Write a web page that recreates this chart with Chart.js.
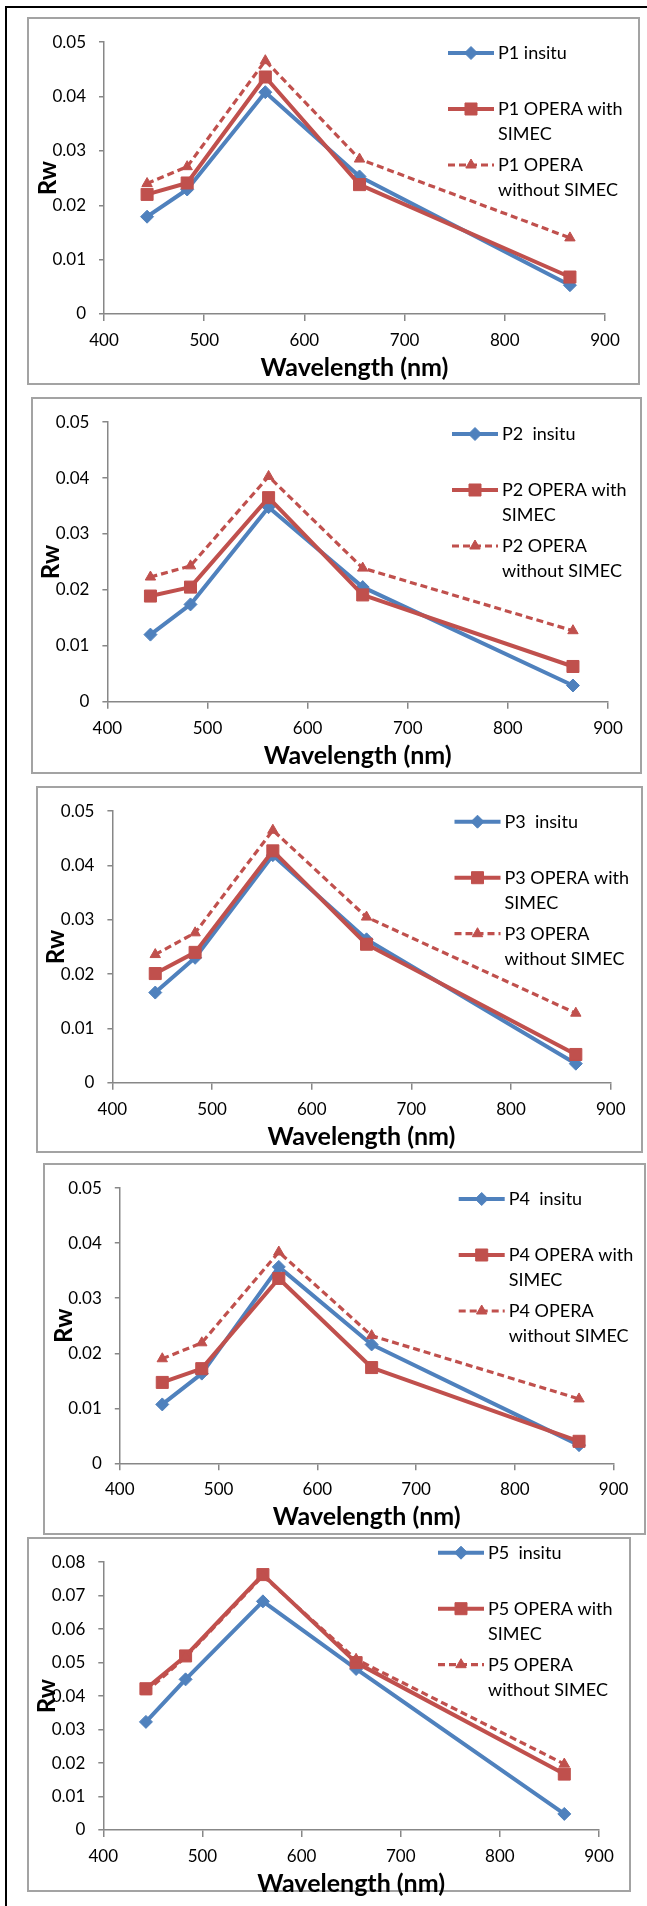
<!DOCTYPE html>
<html>
<head>
<meta charset="utf-8">
<title>Rw spectra P1–P5</title>
<script src="https://cdn.jsdelivr.net/npm/chart.js@4.4.1/dist/chart.umd.min.js"></script>
<style>
  html, body { margin: 0; padding: 0; background: #fff; }
  body { width: 647px; height: 1906px; position: relative; overflow: hidden; }
  .frame { position: absolute; left: 5px; top: 6px; width: 642px; height: 1900px;
           border-left: 2px solid #000; border-top: 2px solid #000; box-sizing: border-box; }
  .panel { position: absolute; box-sizing: border-box; border: 2px solid #a3a3a3; }
  canvas { position: absolute; }
</style>
</head>
<body>
<div class="frame"></div>
<script>
// Band centres (nm)
const wavelengths = [443, 483, 561, 655, 865];

// Axis ticks
const xTicks = [400, 500, 600, 700, 800, 900];
const yTicks05 = [0, 0.01, 0.02, 0.03, 0.04, 0.05];
const yTickLabels05 = ['0', '0.01', '0.02', '0.03', '0.04', '0.05'];
const yTicks08 = [0, 0.01, 0.02, 0.03, 0.04, 0.05, 0.06, 0.07, 0.08];
const yTickLabels08 = ['0', '0.01', '0.02', '0.03', '0.04', '0.05', '0.06', '0.07', '0.08'];

// Rw per station: in situ, OPERA with SIMEC, OPERA without SIMEC
const p1Insitu  = [0.0179, 0.0229, 0.0408, 0.0253, 0.0053];
const p1With    = [0.0220, 0.0241, 0.0436, 0.0238, 0.0068];
const p1Without = [0.0240, 0.0271, 0.0466, 0.0285, 0.0140];

const p2Insitu  = [0.0120, 0.0174, 0.0348, 0.0205, 0.0029];
const p2With    = [0.0189, 0.0205, 0.0365, 0.0191, 0.0063];
const p2Without = [0.0223, 0.0243, 0.0403, 0.0239, 0.0127];

const p3Insitu  = [0.0166, 0.0230, 0.0419, 0.0264, 0.0035];
const p3With    = [0.0201, 0.0240, 0.0427, 0.0255, 0.0052];
const p3Without = [0.0236, 0.0276, 0.0465, 0.0305, 0.0128];

const p4Insitu  = [0.0107, 0.0163, 0.0357, 0.0216, 0.0033];
const p4With    = [0.0147, 0.0172, 0.0336, 0.0174, 0.0040];
const p4Without = [0.0190, 0.0219, 0.0384, 0.0232, 0.0117];

const p5Insitu  = [0.0323, 0.0450, 0.0683, 0.0481, 0.0048];
const p5With    = [0.0422, 0.0520, 0.0763, 0.0500, 0.0167];
const p5Without = [0.0413, 0.0516, 0.0759, 0.0510, 0.0197];

// Legend text, one array of lines per series
const p1Labels = [['P1 insitu'], ['P1 OPERA with', 'SIMEC'], ['P1 OPERA', 'without SIMEC']];
const p2Labels = [['P2  insitu'], ['P2 OPERA with', 'SIMEC'], ['P2 OPERA', 'without SIMEC']];
const p3Labels = [['P3  insitu'], ['P3 OPERA with', 'SIMEC'], ['P3 OPERA', 'without SIMEC']];
const p4Labels = [['P4  insitu'], ['P4 OPERA with', 'SIMEC'], ['P4 OPERA', 'without SIMEC']];
const p5Labels = [['P5  insitu'], ['P5 OPERA with', 'SIMEC'], ['P5 OPERA', 'without SIMEC']];

const xTitle = 'Wavelength (nm)';
const yTitle = 'Rw';

// ---- styling / layout ----
const BLUE = '#4F81BD';
const RED = '#C0504D';
const AXIS = '#878787';
const FONT = 'Lato';
Chart.defaults.font.family = FONT;

// page boxes [left, top, right, bottom], plot areas, legend anchor
const layouts = [
  { box: [27, 17, 640, 385],    area: [104, 37.5, 605, 314],      legend: [448, 53] },
  { box: [31, 397, 642, 774],   area: [107.4, 417.3, 608, 701.7], legend: [452, 434] },
  { box: [36, 786, 643, 1153],  area: [112.4, 805.3, 610.7, 1082.7], legend: [454.5, 821.7] },
  { box: [43, 1163, 646, 1535], area: [119.8, 1182.7, 613.6, 1463.3], legend: [458.7, 1199] },
  { box: [27, 1537, 631, 1892], area: [103.3, 1556, 599, 1830],   legend: [438, 1552.7] }
];

const panels = [
  { series: [p1Insitu, p1With, p1Without], labels: p1Labels, yTicks: yTicks05, yLabels: yTickLabels05 },
  { series: [p2Insitu, p2With, p2Without], labels: p2Labels, yTicks: yTicks05, yLabels: yTickLabels05 },
  { series: [p3Insitu, p3With, p3Without], labels: p3Labels, yTicks: yTicks05, yLabels: yTickLabels05 },
  { series: [p4Insitu, p4With, p4Without], labels: p4Labels, yTicks: yTicks05, yLabels: yTickLabels05 },
  { series: [p5Insitu, p5With, p5Without], labels: p5Labels, yTicks: yTicks08, yLabels: yTickLabels08 }
];

const seriesStyles = [
  { color: BLUE, width: 4,   dash: [], point: 'rectRot', radius: 6.5, order: 3 },
  { color: RED,  width: 4,   dash: [], point: 'rect',    radius: 8.5, order: 2 },
  { color: RED,  width: 3.2, dash: [7, 4], point: 'triangle', radius: 6, order: 1 }
];

// Legend drawn at the right of the plot with wrapped labels
const sideLegend = {
  id: 'sideLegend',
  afterDraw(chart, args, opts) {
    const ctx = chart.ctx;
    const gaps = [0, 56, 112];
    const lineLen = 46;
    ctx.save();
    chart.data.datasets.forEach((ds, i) => {
      const y = opts.y + gaps[i];
      ctx.lineWidth = ds.borderWidth;
      ctx.strokeStyle = ds.borderColor;
      ctx.setLineDash(ds.borderDash || []);
      ctx.beginPath();
      ctx.moveTo(opts.x, y);
      ctx.lineTo(opts.x + lineLen, y);
      ctx.stroke();
      ctx.setLineDash([]);
      ctx.fillStyle = ds.pointBackgroundColor;
      ctx.strokeStyle = ds.pointBorderColor;
      ctx.lineWidth = ds.pointBorderWidth;
      Chart.helpers.drawPoint(ctx, {
        pointStyle: ds.pointStyle, radius: ds.pointRadius, rotation: 0, borderWidth: ds.pointBorderWidth
      }, opts.x + lineLen / 2, y);
      ctx.fillStyle = '#000';
      ctx.font = '18px ' + FONT;
      ctx.textAlign = 'left';
      ctx.textBaseline = 'middle';
      opts.lines[i].forEach((t, k) => ctx.fillText(t, opts.x + lineLen + 4, y + k * 25));
    });
    ctx.restore();
  }
};

const X_TITLE_SIZE = 25;
const Y_TITLE_SIZE = 24;
const X_H = 54 + X_TITLE_SIZE * 1.2 / 2;   // height of the x-axis block (ticks + labels + title)
const BORDER = 2;

layouts.forEach(lay => {
  const d = document.createElement('div');
  d.className = 'panel';
  d.style.left = lay.box[0] + 'px';
  d.style.top = lay.box[1] + 'px';
  d.style.width = (lay.box[2] - lay.box[0]) + 'px';
  d.style.height = (lay.box[3] - lay.box[1]) + 'px';
  document.body.appendChild(d);
});

panels.forEach((p, idx) => {
  const lay = layouts[idx];
  const ox = lay.box[0] + BORDER, oy = lay.box[1] + BORDER;
  const cw = lay.box[2] - lay.box[0] - 2 * BORDER;
  const ch = lay.box[3] - lay.box[1] - 2 * BORDER + 24;
  const aL = lay.area[0] - ox, aT = lay.area[1] - oy;
  const aR = lay.area[2] - ox, aB = lay.area[3] - oy;

  const cv = document.createElement('canvas');
  cv.width = cw; cv.height = ch;
  cv.style.left = ox + 'px'; cv.style.top = oy + 'px';
  cv.style.width = cw + 'px'; cv.style.height = ch + 'px';
  document.body.appendChild(cv);

  const datasets = p.series.map((vals, i) => {
    const st = seriesStyles[i];
    return {
      label: p.labels[i].join(' '),
      data: wavelengths.map((w, k) => ({ x: w, y: vals[k] })),
      borderColor: st.color,
      backgroundColor: st.color,
      borderWidth: st.width,
      borderDash: st.dash,
      borderJoinStyle: 'round',
      pointStyle: st.point,
      pointRadius: st.radius,
      pointBackgroundColor: st.color,
      pointBorderColor: st.color,
      pointBorderWidth: 1,
      tension: 0,
      fill: false,
      order: st.order,
      clip: false
    };
  });

  const yTitlePad = (lay.area[0] - 56) - ox - Y_TITLE_SIZE * 1.2 / 2;

  new Chart(cv, {
    type: 'line',
    data: { datasets },
    plugins: [sideLegend],
    options: {
      responsive: false,
      animation: false,
      events: [],
      devicePixelRatio: 1,
      layout: { padding: { left: 0, top: aT, right: cw - aR, bottom: ch - aB - X_H } },
      plugins: {
        legend: { display: false },
        tooltip: { enabled: false },
        sideLegend: { x: lay.legend[0] - ox, y: lay.legend[1] - oy, lines: p.labels }
      },
      scales: {
        x: {
          type: 'linear',
          min: xTicks[0],
          max: xTicks[xTicks.length - 1],
          afterBuildTicks: s => { s.ticks = xTicks.map(v => ({ value: v })); },
          afterFit: s => { s.height = X_H; },
          border: { color: AXIS, width: 1.5 },
          grid: { drawOnChartArea: false, color: AXIS, lineWidth: 1.5, tickLength: 7 },
          ticks: { color: '#000', font: { size: 17 }, padding: 9.5, maxRotation: 0,
                   callback: (v, i) => String(xTicks[i]) },
          title: { display: true, text: xTitle, color: '#000',
                   font: { size: X_TITLE_SIZE, weight: 'bold' }, padding: { top: 0, bottom: 0 } }
        },
        y: {
          type: 'linear',
          min: p.yTicks[0],
          max: p.yTicks[p.yTicks.length - 1],
          afterBuildTicks: s => { s.ticks = p.yTicks.map(v => ({ value: v })); },
          afterFit: s => { s.width = aL; },
          border: { color: AXIS, width: 1.5 },
          grid: { drawOnChartArea: false, color: AXIS, lineWidth: 1.5, tickLength: 5 },
          ticks: { color: '#000', font: { size: 17 }, padding: 13,
                   callback: (v, i) => p.yLabels[i] },
          title: { display: true, text: yTitle, color: '#000',
                   font: { size: Y_TITLE_SIZE, weight: 'bold' }, padding: { top: yTitlePad, bottom: 0 } }
        }
      }
    }
  });
});
</script>
</body>
</html>
